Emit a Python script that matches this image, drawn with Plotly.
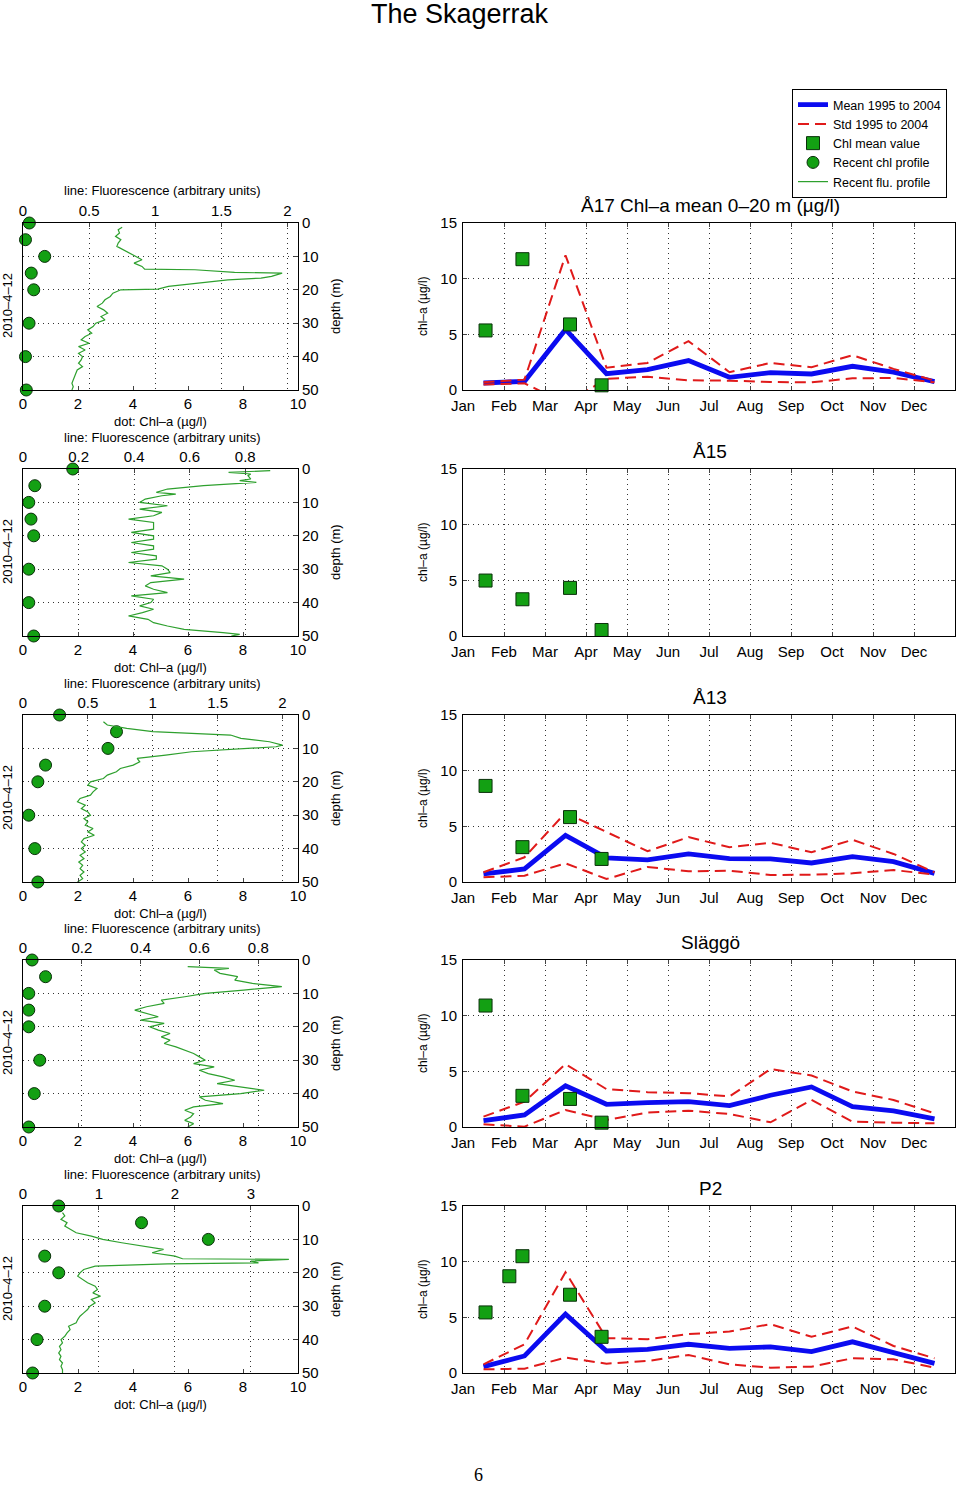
import plotly.graph_objects as go

W, H = 960, 1486
FONT = "Liberation Sans, Arial, sans-serif"

# ---------------- data ----------------
stations = ["Å17", "Å15", "Å13", "Släggö", "P2"]
ts_titles = ["Å17 Chl–a mean 0–20 m (µg/l)", "Å15", "Å13", "Släggö", "P2"]
months = ["Jan", "Feb", "Mar", "Apr", "May", "Jun", "Jul", "Aug", "Sep", "Oct", "Nov", "Dec"]
month_mid = [0.5, 1.5, 2.5, 3.5, 4.5, 5.5, 6.5, 7.5, 8.5, 9.5, 10.5, 11.5]

mean_A17 = [0.63, 0.78, 5.44, 1.47, 1.83, 2.64, 1.14, 1.56, 1.44, 2.13, 1.6, 0.75]
upper_A17 = [0.69, 0.93, 12.1, 2.0, 2.43, 4.39, 1.6, 2.43, 2.04, 3.13, 1.9, 0.84]
lower_A17 = [0.5, 0.6, -1.2, 1.0, 1.2, 0.87, 0.84, 0.72, 0.69, 1.05, 1.08, 0.69]

mean_A13 = [0.72, 1.17, 4.18, 2.16, 1.98, 2.52, 2.1, 2.07, 1.71, 2.28, 1.83, 0.78]
upper_A13 = [0.87, 2.22, 6.22, 4.48, 2.76, 4.03, 3.13, 3.52, 2.67, 3.79, 2.52, 0.87]
lower_A13 = [0.42, 0.57, 1.68, 0.27, 1.35, 0.96, 1.02, 0.63, 0.66, 0.78, 1.08, 0.66]

mean_SL = [0.57, 1.08, 3.7, 2.04, 2.19, 2.28, 1.92, 2.85, 3.6, 1.83, 1.44, 0.72]
upper_SL = [0.93, 2.28, 5.65, 3.4, 3.13, 3.04, 2.74, 5.2, 4.63, 3.19, 2.43, 1.23]
lower_SL = [0.24, 0.03, 1.53, 0.63, 1.29, 1.47, 1.17, 0.42, 2.43, 0.48, 0.39, 0.33]

mean_P2 = [0.57, 1.53, 5.29, 1.98, 2.13, 2.58, 2.22, 2.34, 1.92, 2.8, 1.83, 0.87]
upper_P2 = [0.78, 2.58, 9.05, 3.13, 3.04, 3.49, 3.73, 4.39, 3.25, 4.18, 2.43, 1.32]
lower_P2 = [0.33, 0.39, 1.38, 0.84, 1.08, 1.62, 0.78, 0.48, 0.57, 1.32, 1.23, 0.48]

sq_t_A17 = [0.55, 1.45, 2.61, 3.38]
sq_v_A17 = [5.35, 11.75, 5.89, 0.42]
sq_t_A15 = [0.55, 1.45, 2.61, 3.38]
sq_v_A15 = [4.98, 3.3, 4.32, 0.54]
sq_t_A13 = [0.55, 1.45, 2.61, 3.38]
sq_v_A13 = [8.63, 3.13, 5.83, 2.07]
sq_t_SL = [0.55, 1.45, 2.61, 3.38]
sq_v_SL = [10.91, 2.8, 2.52, 0.39]
sq_t_P2 = [0.55, 1.13, 1.45, 2.61, 3.38]
sq_v_P2 = [5.44, 8.69, 10.49, 7.03, 3.25]

dot_depth = [0, 5, 10, 15, 20, 30, 40, 50]
dot_A17 = [0.23, 0.09, 0.79, 0.30, 0.39, 0.22, 0.09, 0.12]
dot_A15 = [1.81, 0.43, 0.21, 0.29, 0.39, 0.21, 0.21, 0.39]
dot_A13 = [1.33, 3.4, 3.09, 0.82, 0.54, 0.21, 0.43, 0.54]
dot_SL = [0.33, 0.82, 0.21, 0.21, 0.21, 0.61, 0.41, 0.21]
dot_P2 = [1.3, 4.31, 6.74, 0.79, 1.3, 0.79, 0.51, 0.35]

fd_A17 = [1.3, 2, 3, 4, 5, 6, 7, 8, 9, 10, 11, 12, 13, 13.8, 14, 14.8, 15, 16, 16.5, 17, 18, 19, 19.8, 20, 21, 22, 23, 24, 25, 26, 27, 28, 29, 30, 31, 32, 33, 34, 35, 36, 37, 38, 39, 40, 41, 42, 43, 44, 45, 46, 47, 48, 49, 50]
fv_A17 = [0.75, 0.72, 0.73, 0.70, 0.74, 0.72, 0.71, 0.76, 0.80, 0.86, 0.90, 0.84, 0.90, 0.92, 1.30, 1.60, 1.96, 1.88, 1.80, 1.55, 1.32, 1.10, 1.02, 0.74, 0.68, 0.66, 0.62, 0.60, 0.56, 0.61, 0.64, 0.59, 0.62, 0.55, 0.53, 0.49, 0.52, 0.47, 0.44, 0.50, 0.42, 0.47, 0.42, 0.45, 0.44, 0.42, 0.45, 0.41, 0.40, 0.39, 0.38, 0.37, 0.38, 0.37]

fd_A15 = [0.5, 1, 1.5, 2, 3, 3.5, 4, 5, 6, 7, 7.5, 8, 9, 10, 11, 12, 13, 14, 15, 16, 17, 18, 19, 20, 21, 22, 23, 24, 25, 26, 27, 28, 29, 30, 31, 32, 33, 34, 35, 36, 37, 38, 39, 40, 41, 42, 43, 44, 45, 46, 47, 48, 49, 49.5, 50]
fv_A15 = [0.89, 0.74, 0.82, 0.81, 0.82, 0.78, 0.84, 0.65, 0.52, 0.48, 0.55, 0.50, 0.44, 0.42, 0.52, 0.42, 0.50, 0.47, 0.38, 0.47, 0.47, 0.47, 0.39, 0.47, 0.47, 0.39, 0.47, 0.47, 0.39, 0.48, 0.48, 0.38, 0.50, 0.52, 0.53, 0.46, 0.58, 0.46, 0.44, 0.47, 0.52, 0.39, 0.47, 0.46, 0.42, 0.47, 0.43, 0.38, 0.45, 0.47, 0.52, 0.58, 0.72, 0.78, 0.75]

fd_A13 = [2, 3, 4, 5, 6, 7, 8, 9, 9.5, 10, 11, 12, 13, 14, 15, 16, 17, 18, 19, 20, 21, 22, 23, 24, 25, 26, 27, 28, 29, 30, 31, 32, 33, 34, 35, 36, 37, 38, 39, 40, 41, 42, 43, 44, 45, 46, 47, 48, 49, 50]
fv_A13 = [0.62, 0.65, 0.80, 1.00, 1.60, 1.68, 1.90, 2.00, 1.95, 1.70, 1.30, 1.10, 0.88, 0.90, 0.85, 0.75, 0.72, 0.65, 0.62, 0.52, 0.50, 0.57, 0.54, 0.52, 0.44, 0.42, 0.48, 0.45, 0.50, 0.52, 0.47, 0.50, 0.48, 0.54, 0.50, 0.55, 0.47, 0.45, 0.48, 0.45, 0.48, 0.44, 0.47, 0.43, 0.46, 0.44, 0.47, 0.44, 0.46, 0.42]

fd_SL = [2, 2.5, 3, 4, 5, 6, 7, 8, 9, 10, 11, 12, 13, 14, 15, 16, 17, 18, 19, 20, 21, 22, 23, 24, 25, 26, 27, 28, 29, 30, 31, 32, 33, 34, 35, 36, 37, 38, 39, 40, 41, 42, 43, 44, 45, 46, 47, 48, 49, 50]
fv_SL = [0.56, 0.70, 0.65, 0.67, 0.73, 0.72, 0.78, 0.88, 0.75, 0.62, 0.55, 0.47, 0.48, 0.42, 0.38, 0.42, 0.46, 0.40, 0.48, 0.43, 0.46, 0.50, 0.47, 0.50, 0.48, 0.52, 0.55, 0.58, 0.60, 0.62, 0.58, 0.65, 0.60, 0.63, 0.68, 0.72, 0.66, 0.75, 0.82, 0.74, 0.60, 0.62, 0.68, 0.58, 0.55, 0.58, 0.57, 0.55, 0.58, 0.56]

fd_P2 = [2, 3, 4, 5, 6, 7, 8, 9, 10, 11, 12, 13, 14, 15, 15.8, 16, 16.5, 17, 17.3, 18, 19, 20, 21, 22, 23, 24, 25, 26, 27, 28, 29, 30, 31, 32, 33, 34, 35, 36, 37, 38, 39, 40, 41, 42, 43, 44, 45, 46, 47, 48, 49, 50]
fv_P2 = [0.52, 0.55, 0.50, 0.58, 0.55, 0.62, 0.70, 0.90, 1.05, 1.30, 1.60, 1.85, 1.70, 2.00, 2.10, 3.50, 3.00, 3.10, 1.90, 0.95, 0.80, 0.75, 0.72, 0.78, 0.85, 0.95, 0.98, 0.92, 1.02, 0.90, 0.95, 0.88, 0.85, 0.80, 0.75, 0.72, 0.70, 0.60, 0.62, 0.58, 0.55, 0.50, 0.52, 0.48, 0.50, 0.47, 0.50, 0.48, 0.52, 0.50, 0.52, 0.52]

flu_max = [2.08, 0.99, 2.12, 0.935, 3.62]
flu_ticks = [[0, 0.5, 1, 1.5, 2], [0, 0.2, 0.4, 0.6, 0.8], [0, 0.5, 1, 1.5, 2],
             [0, 0.2, 0.4, 0.6, 0.8], [0, 1, 2, 3]]
flu_ticktext = [["0", "0.5", "1", "1.5", "2"], ["0", "0.2", "0.4", "0.6", "0.8"],
                ["0", "0.5", "1", "1.5", "2"], ["0", "0.2", "0.4", "0.6", "0.8"],
                ["0", "1", "2", "3"]]
chl_ticks = [0, 2, 4, 6, 8, 10]
depth_ticks = [0, 10, 20, 30, 40, 50]
ts_yticks = [0, 5, 10, 15]
date_label = "2010–4–12"

means = [mean_A17, None, mean_A13, mean_SL, mean_P2]
uppers = [upper_A17, None, upper_A13, upper_SL, upper_P2]
lowers = [lower_A17, None, lower_A13, lower_SL, lower_P2]
sq_t = [sq_t_A17, sq_t_A15, sq_t_A13, sq_t_SL, sq_t_P2]
sq_v = [sq_v_A17, sq_v_A15, sq_v_A13, sq_v_SL, sq_v_P2]
dots = [dot_A17, dot_A15, dot_A13, dot_SL, dot_P2]
fds = [fd_A17, fd_A15, fd_A13, fd_SL, fd_P2]
fvs = [fv_A17, fv_A15, fv_A13, fv_SL, fv_P2]

# ---------------- layout helpers ----------------
def px(x):
    return x / W

def py(y):
    return 1 - y / H

panel_top = [223, 469, 715, 960, 1206]
panel_h = 167
PL, PR = 23, 298      # profile plot x
TL, TR = 463, 955     # time-series plot x

GREEN = "#13a013"
BLUE = "#0b0bf0"
RED = "#e01a1a"
GRID = "#333333"
GDASH = "1px,4px"

fig = go.Figure()
layout = dict(width=W, height=H, autosize=False,
              margin=dict(l=0, r=0, t=0, b=0, pad=0, autoexpand=False),
              paper_bgcolor="white", plot_bgcolor="white",
              font=dict(family=FONT, size=15, color="black"),
              showlegend=True)
annotations = []

def axname(k):
    return "" if k == 1 else str(k)

def label(text, x, y, size, angle=0, family=FONT):
    annotations.append(dict(text=text, x=px(x), y=py(y), xref="paper", yref="paper",
                            xanchor="center", yanchor="middle", showarrow=False,
                            textangle=angle, font=dict(family=family, size=size, color="black")))

tickfont = dict(family=FONT, size=15, color="black")

for i in range(5):
    a = 3 * i + 1
    b = 2 * i + 1
    top = panel_top[i]
    ydom = [py(top + panel_h), py(top)]
    xb, xt, xs = "x" + axname(a), "x" + axname(a + 1), "x" + axname(a + 2)
    yp, ys = "y" + axname(b), "y" + axname(b + 1)

    # profile: bottom chl axis
    layout["xaxis" + axname(a)] = dict(
        domain=[px(PL), px(PR)], anchor=yp, range=[0, 10], tickvals=chl_ticks,
        ticks="inside", ticklen=4, showline=True, linecolor="black", linewidth=1,
        mirror=False, showgrid=False, zeroline=False, tickfont=tickfont)
    # profile: top fluorescence axis
    layout["xaxis" + axname(a + 1)] = dict(
        domain=[px(PL), px(PR)], anchor=yp, overlaying=xb, side="top",
        range=[0, flu_max[i]], tickvals=flu_ticks[i], ticktext=flu_ticktext[i],
        ticks="inside", ticklen=4, showline=True, linecolor="black", linewidth=1,
        showgrid=True, gridcolor=GRID, griddash=GDASH, gridwidth=1,
        zeroline=False, tickfont=tickfont)
    layout["yaxis" + axname(b)] = dict(
        domain=ydom, anchor=xb, side="right", range=[50, 0], tickvals=depth_ticks,
        ticks="inside", ticklen=4, showline=True, linecolor="black", linewidth=1,
        mirror=True, showgrid=True, gridcolor=GRID, griddash=GDASH, gridwidth=1,
        zeroline=False, tickfont=tickfont)
    # time series axes
    layout["xaxis" + axname(a + 2)] = dict(
        domain=[px(TL), px(TR)], anchor=ys, range=[0, 12],
        tickvals=list(range(12)), ticktext=months, ticklabelstandoff=2,
        ticks="inside", ticklen=4, showline=True, linecolor="black", linewidth=1,
        mirror="ticks", showgrid=True, gridcolor=GRID, griddash=GDASH, gridwidth=1,
        zeroline=False, tickfont=tickfont)
    layout["yaxis" + axname(b + 1)] = dict(
        domain=ydom, anchor=xs, range=[0, 15], tickvals=ts_yticks, ticklabelstandoff=2,
        ticks="inside", ticklen=4, showline=True, linecolor="black", linewidth=1,
        mirror="ticks", showgrid=True, gridcolor=GRID, griddash=GDASH, gridwidth=1,
        zeroline=False, tickfont=tickfont)

    first = (i == 0)
    # time series traces
    if means[i] is not None:
        fig.add_trace(go.Scatter(x=month_mid, y=means[i], xaxis=xs, yaxis=ys, mode="lines",
                                 line=dict(color=BLUE, width=4.8), name="Mean 1995 to 2004",
                                 showlegend=first, legendrank=1))
        fig.add_trace(go.Scatter(x=month_mid, y=uppers[i], xaxis=xs, yaxis=ys, mode="lines",
                                 line=dict(color=RED, width=2, dash="11px,6px"),
                                 name="Std 1995 to 2004", showlegend=first, legendrank=2))
        fig.add_trace(go.Scatter(x=month_mid, y=lowers[i], xaxis=xs, yaxis=ys, mode="lines",
                                 line=dict(color=RED, width=2, dash="11px,6px"),
                                 name="Std 1995 to 2004", showlegend=False))
    fig.add_trace(go.Scatter(x=sq_t[i], y=sq_v[i], xaxis=xs, yaxis=ys, mode="markers",
                             marker=dict(symbol="square", size=13, color=GREEN,
                                         line=dict(color="#0a300a", width=1)),
                             name="Chl mean value", showlegend=first, legendrank=3,
                             cliponaxis=False))
    # profile traces
    fig.add_trace(go.Scatter(x=fvs[i], y=fds[i], xaxis=xt, yaxis=yp, mode="lines",
                             line=dict(color="#2ea02e", width=1.2),
                             name="Recent flu. profile", showlegend=first, legendrank=5))
    fig.add_trace(go.Scatter(x=dots[i], y=dot_depth, xaxis=xb, yaxis=yp, mode="markers",
                             marker=dict(symbol="circle", size=12, color=GREEN,
                                         line=dict(color="#0a300a", width=1)),
                             name="Recent chl profile", showlegend=first, legendrank=4,
                             cliponaxis=False))

    # text labels
    cx = (PL + PR) / 2
    label("line: Fluorescence (arbitrary units)", cx + 2, top - 32, 13)
    label("dot: Chl–a (µg/l)", cx, top + 198, 13)
    label(date_label, 7, top + 83, 13, angle=-90)
    label("depth (m)", 335, top + 83, 13, angle=-90)
    label("chl–a (µg/l)", 423, top + 83, 12, angle=-90)
    label(ts_titles[i], 710, top - 18, 19)

label("The Skagerrak", 460, 14, 27)
label("6", 478, 1475, 18, family="Liberation Serif, serif")

layout["annotations"] = annotations
layout["legend"] = dict(x=px(792), y=py(89), xanchor="left", yanchor="top",
                        bordercolor="black", borderwidth=1, bgcolor="white",
                        font=dict(family=FONT, size=12.5, color="black"), itemwidth=30,
                        tracegroupgap=0, traceorder="normal")
fig.update_layout(**layout)
fig.write_html("out.html", config={"displayModeBar": False},
               post_script="document.body.style.margin='0';document.body.style.padding='0';")
